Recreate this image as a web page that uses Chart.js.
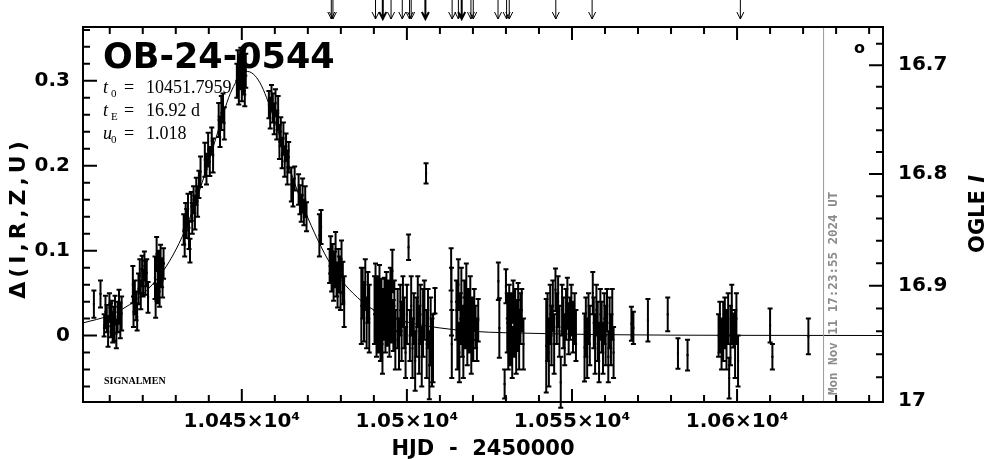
<!DOCTYPE html>
<html>
<head>
<meta charset="utf-8">
<script src="https://cdn.jsdelivr.net/npm/chart.js@4"></script>
<style>
  html, body { margin: 0; padding: 0; background: #fff; }
  canvas { display: block; }
</style>
</head>
<body>
<canvas id="lc" width="986" height="459"></canvas>
<script>
// observations: HJD-2450000, delta flux, error
const hjd = [
  10405.2, 10407.2,
  10408.3, 10408.7, 10409.1, 10409.5, 10409.9, 10410.3, 10410.6, 10410.9, 10411.3, 10411.6, 10412.0, 10412.4, 10412.8, 10413.2, 10413.6,
  10417.0, 10417.2, 10417.6, 10418.0, 10418.3, 10418.7, 10419.1, 10419.4, 10419.8, 10420.1, 10420.5, 10420.8, 10421.2, 10421.6,
  10423.7, 10423.9, 10424.2, 10424.5, 10424.8, 10425.1, 10425.4, 10425.7, 10426.0, 10426.3,
  10432.4, 10432.7, 10433.0, 10433.3, 10433.7, 10434.0, 10434.3, 10434.7, 10435.0, 10435.4, 10435.8, 10436.2, 10436.6, 10437.0, 10437.5,
  10438.8, 10439.3, 10439.8, 10440.3, 10440.9, 10441.3,
  10443.0, 10443.4, 10443.8, 10444.3, 10444.7,
  10448.5, 10448.8, 10449.1, 10449.4, 10449.7, 10450.0, 10450.3, 10450.6, 10450.9, 10451.2,
  10458.2, 10458.6, 10459.0, 10459.4, 10459.8, 10460.2, 10460.6, 10461.0,
  10461.4, 10461.8, 10462.2, 10462.6, 10463.0, 10463.4, 10463.8, 10464.2,
  10465.0, 10465.5, 10466.0, 10467.2, 10467.6, 10468.0, 10468.4, 10468.8, 10469.2, 10469.6,
  10473.5, 10474.0,
  10476.6, 10476.9, 10477.2, 10477.5, 10477.8, 10478.1, 10478.4, 10478.7, 10479.0, 10479.3, 10479.6, 10479.9, 10480.2, 10480.6, 10481.0,
  10486.2, 10486.6, 10487.0, 10487.4, 10487.8, 10488.2, 10488.6,
  10490.2, 10490.5, 10490.8, 10491.1, 10491.4, 10491.7, 10492.0, 10492.3, 10492.6, 10492.9, 10493.2, 10493.5, 10493.8, 10494.1, 10494.4, 10494.7, 10495.0, 10495.3, 10495.6, 10495.9, 10496.2, 10496.5,
  10497.2, 10497.6, 10498.0, 10498.4, 10498.8, 10499.2, 10499.6, 10500.0, 10500.5, 10500.9, 10501.3, 10501.7, 10502.1, 10502.5, 10502.9, 10503.3, 10503.7, 10504.1, 10504.5, 10504.9, 10505.3, 10505.8, 10506.0, 10506.4, 10506.8, 10507.2, 10507.6, 10507.9, 10508.5,
  10513.4, 10513.5, 10513.6, 10515.0, 10515.3, 10515.6, 10515.9, 10516.2, 10516.5, 10516.8, 10517.1, 10517.4, 10517.7, 10518.0, 10518.3, 10518.6, 10518.9, 10519.2, 10519.5, 10519.8, 10520.1, 10520.4, 10520.8, 10521.2, 10521.6,
  10527.7, 10528.0, 10529.6, 10530.0, 10530.4, 10530.7, 10531.0, 10531.3, 10531.6, 10531.9, 10532.2, 10532.5, 10532.8, 10533.1, 10533.4, 10533.7, 10534.0, 10534.4, 10534.8, 10535.3,
  10542.2, 10542.6, 10543.0, 10543.4, 10543.8, 10544.2, 10544.6, 10545.0, 10545.4, 10545.8, 10546.2, 10546.6, 10547.0, 10547.4, 10547.8, 10548.2, 10548.6, 10549.0, 10549.4, 10549.8, 10550.3, 10550.8, 10551.2,
  10553.8, 10554.2, 10554.6, 10555.0, 10555.4, 10556.3, 10556.6, 10557.0, 10557.4, 10557.8, 10558.2, 10558.6, 10559.0, 10559.4, 10559.8, 10560.2, 10560.6, 10561.0, 10561.4, 10561.8, 10562.2, 10562.6,
  10568.0, 10568.6, 10573.0, 10579.0, 10582.1, 10585.0,
  10594.4, 10594.8, 10595.3, 10595.8, 10596.3, 10596.8, 10597.3, 10597.6, 10598.0, 10598.4, 10598.9, 10599.4, 10599.8, 10600.3,
  10610.0, 10610.7, 10621.6
];
const delta = [
  0.037, 0.049,
  0.012, 0.028, 0.020, 0.005, 0.033, 0.018, 0.026, 0.010, 0.014, 0.030, 0.002, 0.022, 0.034, 0.018, 0.026,
  0.060, 0.028, 0.045, 0.035, 0.022, 0.055, 0.070, 0.048, 0.076, 0.062, 0.082, 0.068, 0.074, 0.045,
  0.068, 0.041, 0.096, 0.060, 0.080, 0.052, 0.088, 0.074, 0.065, 0.085,
  0.125, 0.108, 0.140, 0.132, 0.147, 0.118, 0.100, 0.152, 0.138, 0.160, 0.145, 0.170, 0.158, 0.178, 0.193,
  0.207, 0.196, 0.219, 0.205, 0.229, 0.212,
  0.254, 0.240, 0.262, 0.268, 0.250,
  0.300, 0.318, 0.292, 0.310, 0.322, 0.298, 0.315, 0.305, 0.288, 0.312,
  0.272, 0.262, 0.280, 0.268, 0.255, 0.274, 0.248, 0.262,
  0.228, 0.240, 0.215, 0.232, 0.205, 0.222, 0.198, 0.210,
  0.178, 0.168, 0.185, 0.172, 0.160, 0.150, 0.165, 0.145, 0.158, 0.140,
  0.118, 0.128,
  0.082, 0.095, 0.070, 0.088, 0.060, 0.078, 0.102, 0.066, 0.055, 0.084, 0.072, 0.050, 0.090, 0.062, 0.040,
  0.035, 0.050, 0.028, 0.060, 0.015, 0.045, 0.020,
  0.030, 0.055, 0.010, 0.040, 0.020, 0.048, 0.000, 0.032, -0.010, 0.025, 0.038, 0.010, 0.045, 0.018, 0.030, 0.005, 0.050, 0.022, 0.076, 0.012, 0.035, -0.005,
  0.020, -0.010, 0.030, 0.005, 0.040, 0.015, -0.020, 0.025, 0.104, 0.000, 0.035, -0.015, 0.020, -0.030, 0.010, 0.040, -0.005, 0.025, -0.025, 0.015, 0.030, 0.191, -0.010, 0.020, -0.035, 0.005, -0.020, -0.015, 0.041,
  0.078, 0.040, -0.010, 0.030, 0.000, 0.060, -0.020, 0.020, 0.045, 0.005, -0.010, 0.035, 0.015, 0.050, -0.005, 0.025, 0.010, 0.040, -0.015, 0.020, 0.000, 0.030, 0.010, -0.005, 0.018,
  0.064, 0.009, -0.057, 0.058, 0.015, -0.010, 0.030, 0.000, 0.020, -0.020, 0.040, 0.005, 0.025, -0.015, 0.012, 0.032, -0.005, 0.020, 0.030, -0.010,
  -0.012, 0.010, -0.020, 0.025, 0.000, 0.035, -0.010, 0.054, 0.020, 0.040, 0.005, -0.055, 0.030, 0.015, -0.005, 0.025, 0.038, 0.008, 0.020, 0.030, 0.010, 0.020, 0.000,
  -0.014, 0.010, -0.015, 0.020, 0.000, 0.050, 0.015, -0.010, 0.030, 0.005, -0.020, 0.025, 0.010, -0.015, 0.020, 0.000, 0.030, -0.025, 0.015, -0.005, 0.025, -0.020,
  0.014, 0.009, 0.018, 0.025, -0.021, -0.023,
  0.000, 0.010, -0.010, 0.005, 0.015, -0.005, 0.020, -0.050, 0.000, 0.025, 0.006, -0.010, 0.020, -0.030,
  0.012, -0.025, -0.001
];
const sigma = [
  0.016, 0.016,
  0.013, 0.019, 0.016, 0.018, 0.017, 0.020, 0.015, 0.018, 0.020, 0.017, 0.017, 0.018, 0.020, 0.021, 0.020,
  0.022, 0.018, 0.020, 0.017, 0.016, 0.018, 0.020, 0.017, 0.018, 0.016, 0.017, 0.020, 0.016, 0.018,
  0.025, 0.020, 0.020, 0.022, 0.020, 0.018, 0.019, 0.017, 0.020, 0.018,
  0.018, 0.015, 0.016, 0.017, 0.020, 0.016, 0.014, 0.017, 0.018, 0.016, 0.020, 0.016, 0.018, 0.016, 0.018,
  0.020, 0.018, 0.020, 0.017, 0.016, 0.020,
  0.020, 0.018, 0.020, 0.017, 0.019,
  0.020, 0.018, 0.020, 0.020, 0.017, 0.022, 0.019, 0.021, 0.018, 0.020,
  0.016, 0.018, 0.015, 0.017, 0.018, 0.016, 0.017, 0.020,
  0.020, 0.017, 0.018, 0.019, 0.018, 0.016, 0.020, 0.018,
  0.020, 0.016, 0.014, 0.018, 0.017, 0.016, 0.020, 0.015, 0.018, 0.017,
  0.025, 0.020,
  0.020, 0.022, 0.018, 0.020, 0.019, 0.021, 0.020, 0.020, 0.022, 0.018, 0.021, 0.020, 0.022, 0.025, 0.030,
  0.045, 0.030, 0.035, 0.030, 0.030, 0.030, 0.040,
  0.040, 0.030, 0.035, 0.030, 0.040, 0.035, 0.030, 0.035, 0.035, 0.030, 0.030, 0.030, 0.030, 0.030, 0.035, 0.030, 0.030, 0.030, 0.025, 0.030, 0.030, 0.035,
  0.035, 0.030, 0.030, 0.035, 0.030, 0.030, 0.030, 0.035, 0.015, 0.030, 0.035, 0.035, 0.030, 0.035, 0.035, 0.030, 0.040, 0.035, 0.035, 0.040, 0.035, 0.012, 0.040, 0.035, 0.040, 0.040, 0.040, 0.040, 0.015,
  0.025, 0.040, 0.040, 0.035, 0.040, 0.030, 0.035, 0.030, 0.035, 0.030, 0.040, 0.030, 0.030, 0.035, 0.030, 0.030, 0.030, 0.030, 0.030, 0.025, 0.030, 0.025, 0.025, 0.025, 0.025,
  0.022, 0.035, 0.017, 0.020, 0.035, 0.030, 0.030, 0.035, 0.030, 0.030, 0.025, 0.030, 0.030, 0.030, 0.030, 0.030, 0.035, 0.030, 0.025, 0.030,
  0.055, 0.040, 0.040, 0.035, 0.035, 0.030, 0.035, 0.025, 0.030, 0.030, 0.030, 0.030, 0.030, 0.030, 0.030, 0.030, 0.030, 0.030, 0.025, 0.030, 0.030, 0.030, 0.030,
  0.040, 0.035, 0.035, 0.030, 0.035, 0.025, 0.030, 0.035, 0.030, 0.035, 0.035, 0.030, 0.030, 0.030, 0.030, 0.035, 0.025, 0.030, 0.030, 0.030, 0.030, 0.030,
  0.020, 0.019, 0.025, 0.020, 0.018, 0.018,
  0.025, 0.030, 0.030, 0.035, 0.030, 0.035, 0.030, 0.024, 0.035, 0.035, 0.020, 0.040, 0.030, 0.030,
  0.020, 0.015, 0.021
];

// model curve
const modelT = [10402, 10410, 10418, 10424, 10428, 10432, 10436, 10440, 10444, 10446, 10448, 10450, 10451.8,
  10454, 10456, 10458, 10460, 10464, 10468, 10472, 10476, 10480, 10485, 10490, 10495, 10500, 10510, 10520,
  10540, 10560, 10600, 10645];
const modelD = [0.015, 0.024, 0.042, 0.065, 0.087, 0.117, 0.157, 0.205, 0.256, 0.280, 0.297, 0.308, 0.311,
  0.306, 0.294, 0.275, 0.253, 0.203, 0.158, 0.121, 0.090, 0.066, 0.045, 0.030, 0.022, 0.016, 0.009, 0.005,
  0.0025, 0.0011, 0.0003, 0.0001];

// arrows along the top, time of last update
const arrowT = [10477.1, 10477.6, 10490.5, 10492.7, 10495.2, 10498.6, 10500.8, 10501.3, 10505.6,
  10513.7, 10515.6, 10516.6, 10519.4, 10520.1, 10527.6, 10530.2, 10531.0, 10545.1, 10556.1, 10601.0];
const boldArrowT = [10492.7, 10505.6, 10516.6];
const nowT = 10626.2;

const xRange = [10401.9, 10644.2];
const yRange = [-0.0782, 0.3634];
const xTicks = [10450, 10500, 10550, 10600];
const yTicks = [0, 0.1, 0.2, 0.3];
const magTicks = [16.7, 16.8, 16.9, 17];
const magLabels = ['16.7', '16.8', '16.9', '17'];

// OGLE I magnitude -> delta (from the right axis tick spacing)
function magToDelta(m) {
  const t = (m - 16.7) / 0.1;
  return 0.3185 - 0.12825 * t - 0.0017 * t * (t - 1);
}

const labelFont = { family: 'DejaVu Sans', size: 20, weight: 'bold' };

const decor = {
  id: 'decor',
  beforeDatasetsDraw(chart) {
    const { ctx, scales: { x, y } } = chart;
    ctx.save();
    ctx.strokeStyle = '#000';
    ctx.lineWidth = 2;
    ctx.beginPath();
    hjd.forEach((t, i) => {
      const px = x.getPixelForValue(t);
      const y1 = y.getPixelForValue(delta[i] - sigma[i]);
      const y2 = y.getPixelForValue(delta[i] + sigma[i]);
      ctx.moveTo(px, y1); ctx.lineTo(px, y2);
      ctx.moveTo(px - 2.5, y1); ctx.lineTo(px + 2.5, y1);
      ctx.moveTo(px - 2.5, y2); ctx.lineTo(px + 2.5, y2);
    });
    ctx.stroke();
    ctx.restore();
  },
  afterDraw(chart) {
    const { ctx, chartArea: a, scales: { x, y } } = chart;
    ctx.save();

    // last update line
    const nx = x.getPixelForValue(nowT);
    ctx.strokeStyle = '#999';
    ctx.lineWidth = 1;
    ctx.beginPath(); ctx.moveTo(nx, a.top); ctx.lineTo(nx, a.bottom); ctx.stroke();

    // frame + inward ticks
    ctx.strokeStyle = '#000';
    ctx.lineWidth = 2;
    ctx.strokeRect(a.left, a.top, a.right - a.left, a.bottom - a.top);
    ctx.beginPath();
    for (let v = 10410; v <= 10640; v += 10) {
      const px = x.getPixelForValue(v);
      const L = v % 50 === 0 ? 13 : 7;
      ctx.moveTo(px, a.bottom); ctx.lineTo(px, a.bottom - L);
      ctx.moveTo(px, a.top); ctx.lineTo(px, a.top + L);
    }
    for (let k = -3; k <= 18; k++) {
      const py = y.getPixelForValue(k * 0.02);
      const L = k % 5 === 0 ? 14 : 7;
      ctx.moveTo(a.left, py); ctx.lineTo(a.left + L, py);
    }
    for (let k = 0; k < 16; k++) {
      const m = 16.68 + k * 0.02;
      const py = y.getPixelForValue(magToDelta(m));
      const L = (k - 1) % 5 === 0 ? 14 : 7;
      ctx.moveTo(a.right, py); ctx.lineTo(a.right - L, py);
    }
    ctx.stroke();

    // arrows on top
    arrowT.forEach(t => {
      const px = x.getPixelForValue(t);
      ctx.lineWidth = boldArrowT.includes(t) ? 2 : 1;
      ctx.beginPath();
      ctx.moveTo(px, 0); ctx.lineTo(px, 19);
      ctx.moveTo(px - 3.5, 12); ctx.lineTo(px, 19); ctx.lineTo(px + 3.5, 12);
      ctx.stroke();
    });

    // texts
    ctx.fillStyle = '#000';
    ctx.textBaseline = 'alphabetic';
    ctx.font = 'bold 35px "DejaVu Sans"';
    ctx.fillText('OB-24-0544', 103, 68);

    const params = [['t', '0', '10451.7959'], ['t', 'E', '16.92 d'], ['u', '0', '1.018']];
    params.forEach((p, i) => {
      const by = 93 + i * 23;
      ctx.font = 'italic 18px "Liberation Serif"';
      ctx.fillText(p[0], 103, by);
      ctx.font = '11px "Liberation Serif"';
      ctx.fillText(p[1], 111, by + 4);
      ctx.font = '18px "Liberation Serif"';
      ctx.fillText('=', 124, by);
      ctx.fillText(p[2], 146, by);
    });

    ctx.font = 'bold 10px "Liberation Serif"';
    ctx.fillText('SIGNALMEN', 104, 384);

    ctx.font = 'bold 16px "DejaVu Sans"';
    ctx.fillText('o', 854, 53);

    ctx.font = bold21();
    ctx.textAlign = 'center';
    ctx.fillText('HJD  -  2450000', (a.left + a.right) / 2, 455);

    ctx.save();
    ctx.translate(25, 218);
    ctx.rotate(-Math.PI / 2);
    ctx.font = 'bold 22px "DejaVu Sans"';
    ctx.letterSpacing = '4px';
    ctx.fillText('\u0394(I,R,Z,U)', 0, 0);
    ctx.letterSpacing = '0px';
    ctx.restore();

    ctx.save();
    ctx.translate(984, 214);
    ctx.rotate(-Math.PI / 2);
    ctx.textAlign = 'left';
    ctx.font = bold21();
    const w1 = ctx.measureText('OGLE ').width;
    ctx.font = 'bold italic 21px "DejaVu Sans"';
    const w2 = ctx.measureText('I').width;
    ctx.font = bold21();
    ctx.fillText('OGLE ', -(w1 + w2) / 2, 0);
    ctx.font = 'bold italic 21px "DejaVu Sans"';
    ctx.fillText('I', -(w1 + w2) / 2 + w1, 0);
    ctx.restore();

    ctx.save();
    ctx.translate(nx + 13, a.bottom - 7);
    ctx.rotate(-Math.PI / 2);
    ctx.textAlign = 'left';
    ctx.fillStyle = '#8a8a8a';
    ctx.font = 'bold 12.5px "DejaVu Sans Mono"';
    ctx.fillText('Mon Nov 11 17:23:55 2024 UT', 0, 0);
    ctx.restore();

    ctx.restore();
  }
};

function bold21() { return 'bold 21px "DejaVu Sans"'; }

new Chart(document.getElementById('lc'), {
  type: 'scatter',
  data: {
    datasets: [
      {
        type: 'line',
        data: modelT.map((t, i) => ({ x: t, y: modelD[i] })),
        borderColor: '#000',
        borderWidth: 1,
        pointRadius: 0,
        cubicInterpolationMode: 'monotone',
        fill: false
      },
      {
        data: hjd.map((t, i) => ({ x: t, y: delta[i] })),
        backgroundColor: '#000',
        borderColor: '#000',
        pointStyle: 'rect',
        pointRadius: 1.5,
        borderWidth: 0
      }
    ]
  },
  options: {
    responsive: false,
    animation: false,
    devicePixelRatio: 1,
    layout: { padding: { top: 25, left: 0, right: 0, bottom: 0 } },
    plugins: { legend: { display: false }, tooltip: { enabled: false } },
    scales: {
      x: {
        type: 'linear', min: xRange[0], max: xRange[1],
        grid: { display: false, drawTicks: false }, border: { display: false },
        afterFit: s => { s.height = 57; },
        afterBuildTicks: s => { s.ticks = xTicks.map(v => ({ value: v })); },
        ticks: {
          padding: 8, color: '#000', font: labelFont, maxRotation: 0, autoSkip: false,
          callback: v => String(+(v / 1e4).toFixed(4)) + '\u00d710\u2074'
        }
      },
      y: {
        type: 'linear', position: 'left', min: yRange[0], max: yRange[1],
        grid: { display: false, drawTicks: false }, border: { display: false },
        afterFit: s => { s.width = 83; },
        afterBuildTicks: s => { s.ticks = yTicks.map(v => ({ value: v })); },
        ticks: { padding: 13, color: '#000', font: labelFont, callback: v => String(+v.toFixed(2)) }
      },
      yR: {
        type: 'linear', position: 'right', min: yRange[0], max: yRange[1],
        grid: { display: false, drawTicks: false }, border: { display: false },
        afterFit: s => { s.width = 103; },
        afterBuildTicks: s => { s.ticks = magTicks.map(m => ({ value: magToDelta(m) })); },
        ticks: { padding: 15, color: '#000', font: labelFont, callback: (v, i) => magLabels[i] }
      }
    }
  },
  plugins: [decor]
});
</script>
</body>
</html>
